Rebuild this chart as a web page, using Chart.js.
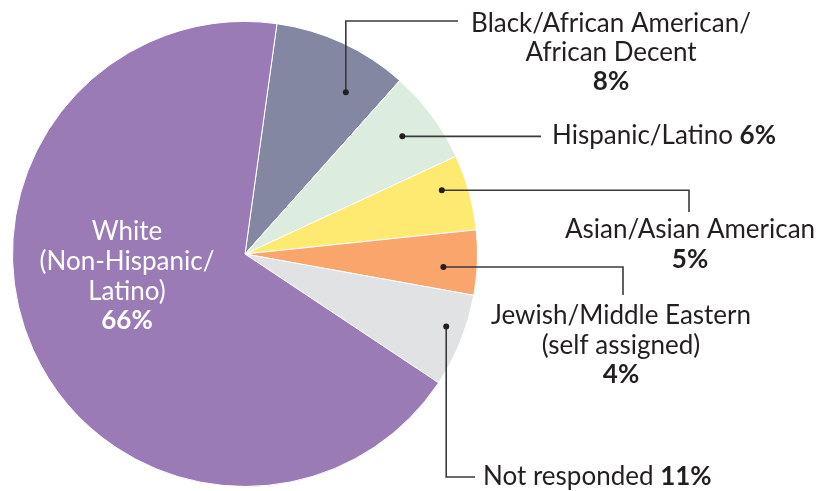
<!DOCTYPE html>
<html>
<head>
<meta charset="utf-8">
<script src="https://cdn.jsdelivr.net/npm/chart.js@4"></script>
<style>
  html, body { margin: 0; padding: 0; background: #fff; }
  #wrap { width: 833px; height: 491px; }
</style>
</head>
<body>
<div id="wrap"><canvas id="pie" width="833" height="491"></canvas></div>
<script>
// slices in drawing order (clockwise from the top)
var categories = ['Black/African American/African Decent', 'Hispanic/Latino', 'Asian/Asian American',
                  'Jewish/Middle Eastern (self assigned)', 'Not responded', 'White (Non-Hispanic/Latino)'];
// share of the circle each slice takes in the picture
var sliceShares = [9.4, 6.5, 5.25, 4.5, 6.5, 67.85];
// percentages as printed on the labels
var pctLabels = ['8%', '6%', '5%', '4%', '11%', '66%'];
var colors = ['#8487a2', '#dcede0', '#fee971', '#f9a56c', '#e1e2e4', '#9b7bb5'];

var textColor = '#231f20';
var lineColor = '#3a3a3a';
var font = 'Lato';
var fontSize = 26;

// callouts: where the dot sits inside its slice, how the leader runs, where text goes
var callouts = [
    {i: 0, frac: 0.71, rf: 0.82, path: function(d) { return [[d.x, 21], [458, 21]]; },
     align: 'center', x: 611, lines: [[['Black/African American/', false]], [['African Decent', false]], [[pctLabels[0], true]]], y: [32, 61, 90]},
    {i: 1, frac: 0.49, rf: 0.845, path: function(d) { return [[541, d.y]]; },
     align: 'left', x: 552, lines: [[['Hispanic/Latino ', false], [pctLabels[1], true]]], y: [144]},
    {i: 2, frac: 0.365, rf: 0.89, path: function(d) { return [[689, d.y], [689, 212]]; },
     align: 'center', x: 690, lines: [[['Asian/Asian American', false]], [[pctLabels[2], true]]], y: [238, 268]},
    {i: 3, frac: 0.60, rf: 0.855, path: function(d) { return [[623, d.y], [623, 295]]; },
     align: 'center', x: 621, lines: [[['Jewish/Middle Eastern', false]], [['(self assigned)', false]], [[pctLabels[3], true]]], y: [324, 354, 383]},
    {i: 4, frac: 0.41, rf: 0.92, path: function(d) { return [[d.x, 477], [475, 477]]; },
     align: 'left', x: 483, lines: [[['Not responded ', false], [pctLabels[4], true]]], y: [485]}
];

function drawLine(ctx, parts, x, y, align, color) {
    var widths = parts.map(function(p) {
        ctx.font = (p[1] ? 'bold ' : '') + fontSize + 'px ' + font;
        return ctx.measureText(p[0]).width;
    });
    var total = widths.reduce(function(a, b) { return a + b; }, 0);
    var cx = align === 'center' ? x - total / 2 : x;
    ctx.fillStyle = color;
    ctx.textBaseline = 'alphabetic';
    ctx.textAlign = 'left';
    parts.forEach(function(p, k) {
        ctx.font = (p[1] ? 'bold ' : '') + fontSize + 'px ' + font;
        ctx.fillText(p[0], cx, y);
        cx += widths[k];
    });
}

var calloutPlugin = {
    id: 'callouts',
    afterDraw: function(chart) {
        var ctx = chart.ctx;
        var arcs = chart.getDatasetMeta(0).data;
        ctx.save();
        callouts.forEach(function(c) {
            var a = arcs[c.i].getProps(['x', 'y', 'startAngle', 'endAngle', 'outerRadius'], true);
            var ang = a.startAngle + c.frac * (a.endAngle - a.startAngle);
            var d = {x: a.x + Math.cos(ang) * a.outerRadius * c.rf, y: a.y + Math.sin(ang) * a.outerRadius * c.rf};
            ctx.strokeStyle = lineColor;
            ctx.lineWidth = 1.6;
            ctx.beginPath();
            ctx.moveTo(d.x, d.y);
            c.path(d).forEach(function(p) { ctx.lineTo(p[0], p[1]); });
            ctx.stroke();
            ctx.fillStyle = '#231f20';
            ctx.beginPath();
            ctx.arc(d.x, d.y, 3, 0, Math.PI * 2);
            ctx.fill();
            c.lines.forEach(function(parts, k) {
                drawLine(ctx, parts, c.x, c.y[k], c.align, textColor);
            });
        });
        // label inside the big slice
        var inner = [[['White', false]], [['(Non-Hispanic/', false]], [['Latino)', false]], [[pctLabels[5], true]]];
        var iy = [240, 270, 300, 329];
        inner.forEach(function(parts, k) { drawLine(ctx, parts, 127, iy[k], 'center', '#ffffff'); });
        ctx.restore();
    }
};

new Chart(document.getElementById('pie'), {
    type: 'pie',
    data: {
        labels: categories,
        datasets: [{
            data: sliceShares,
            backgroundColor: colors,
            borderColor: '#ffffff',
            borderWidth: 1,
            hoverOffset: 0
        }]
    },
    options: {
        responsive: false,
        animation: false,
        rotation: 7.9,
        layout: { padding: { left: 12, top: 21, right: 355, bottom: 4 } },
        plugins: { legend: { display: false }, tooltip: { enabled: false } },
        events: []
    },
    plugins: [calloutPlugin]
});
</script>
</body>
</html>
